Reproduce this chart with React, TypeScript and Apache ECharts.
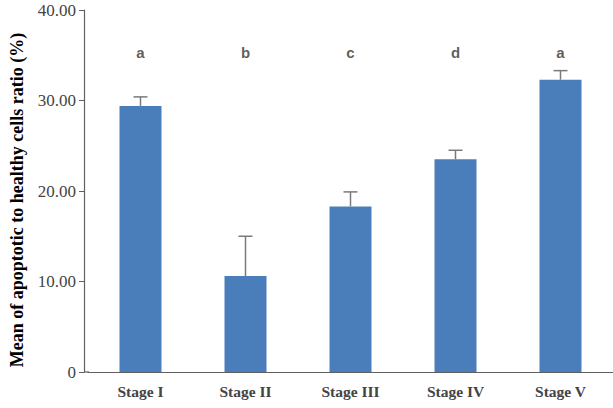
import React, { useEffect, useRef } from "react";
import * as echarts from "echarts";

const categories = ["Stage I", "Stage II", "Stage III", "Stage IV", "Stage V"];
const means = [29.4, 10.6, 18.3, 23.5, 32.3];
const upperErrors = [30.4, 15.0, 19.9, 24.5, 33.3];
const letters = ["a", "b", "c", "d", "a"];
const letterLevel = 35.3;

export default function App() {
  const ref = useRef<HTMLDivElement>(null);
  useEffect(() => {
    if (!ref.current) return;
    const chart = echarts.init(ref.current, undefined, { renderer: "svg" });
    chart.setOption({
      animation: false,
      backgroundColor: "#ffffff",
      grid: { left: 88, right: -6, top: 10, bottom: 36 },
      xAxis: {
        type: "category",
        data: categories,
        axisLine: { lineStyle: { color: "#606060", width: 1.2 } },
        axisTick: { show: false },
        axisLabel: {
          margin: 11,
          fontFamily: "Liberation Serif",
          fontWeight: "bold",
          fontSize: 15.5,
          color: "#444",
        },
      },
      yAxis: {
        type: "value",
        min: 0,
        max: 40,
        interval: 10,
        offset: 4,
        name: "Mean of apoptotic to healthy cells ratio (%)",
        nameLocation: "middle",
        nameGap: 58,
        nameTextStyle: {
          fontFamily: "Liberation Serif",
          fontWeight: "bold",
          fontSize: 18,
          color: "#000",
          padding: [0, 18, 0, 0],
        },
        axisLine: { show: true, lineStyle: { color: "#606060", width: 1.2 } },
        axisTick: { show: true, length: 5, lineStyle: { color: "#606060" } },
        splitLine: { show: false },
        axisLabel: {
          margin: 8,
          fontFamily: "Liberation Serif",
          fontSize: 17,
          color: "#444",
          formatter: (v: number) => (v === 0 ? "0" : v.toFixed(2)),
        },
      },
      graphic: [
        {
          type: "line",
          shape: { x1: 84, y1: 372, x2: 89, y2: 372 },
          style: { stroke: "#606060", lineWidth: 1.2 },
        },
      ],
      series: [
        {
          type: "bar",
          data: means,
          barWidth: 42,
          itemStyle: { color: "#4a7ebb" },
        },
        {
          type: "custom",
          data: categories.map((_, i) => [i, means[i], upperErrors[i]]),
          renderItem: (params: any, api: any) => {
            const base = api.coord([api.value(0), api.value(1)]);
            const top = api.coord([api.value(0), api.value(2)]);
            const half = 7;
            return {
              type: "group",
              children: [
                {
                  type: "line",
                  shape: { x1: base[0], y1: base[1], x2: top[0], y2: top[1] },
                  style: { stroke: "#7a7a7a", lineWidth: 1.5 },
                },
                {
                  type: "line",
                  shape: { x1: top[0] - half, y1: top[1], x2: top[0] + half, y2: top[1] },
                  style: { stroke: "#7a7a7a", lineWidth: 1.5 },
                },
              ],
            };
          },
          z: 1,
        },
        {
          type: "scatter",
          data: categories.map((_, i) => [i, letterLevel]),
          symbolSize: 0,
          label: {
            show: true,
            position: "inside",
            formatter: (p: any) => letters[p.dataIndex],
            fontFamily: "Liberation Sans",
            fontWeight: "bold",
            fontSize: 15,
            color: "#333",
          },
        },
      ],
    });
    return () => chart.dispose();
  }, []);
  return (
    <div
      ref={ref}
      style={{ position: "fixed", left: 0, top: 0, width: 613, height: 408 }}
    />
  );
}
